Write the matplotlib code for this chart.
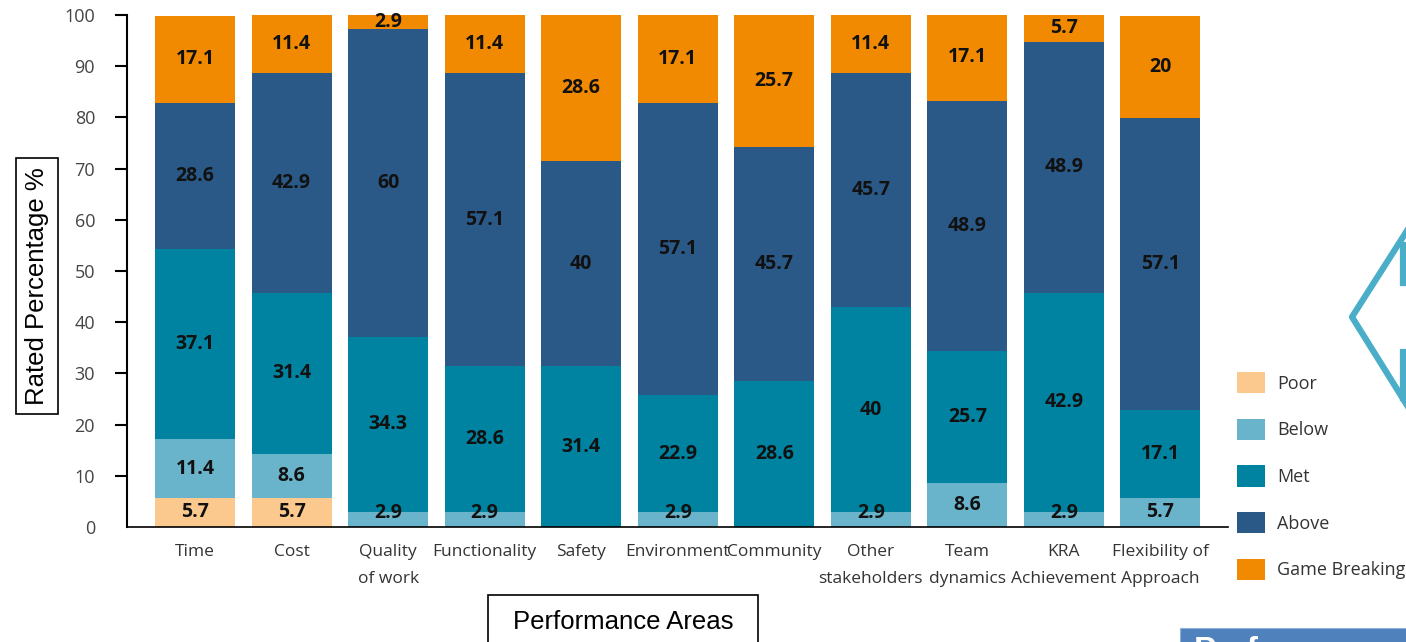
import numpy as np
import matplotlib.pyplot as plt
from matplotlib.patches import Rectangle
from matplotlib.lines import Line2D

# categories and stacked series (percent of raters)
areas = ['Time', 'Cost', 'Quality\nof work', 'Functionality', 'Safety', 'Environment',
         'Community', 'Other\nstakeholders', 'Team\ndynamics', 'KRA\nAchievement',
         'Flexibility of\nApproach']
poor = [5.7, 5.7, 0, 0, 0, 0, 0, 0, 0, 0, 0]
below = [11.4, 8.6, 2.9, 2.9, 0, 2.9, 0, 2.9, 8.6, 2.9, 5.7]
met = [37.1, 31.4, 34.3, 28.6, 31.4, 22.9, 28.6, 40, 25.7, 42.9, 17.1]
above = [28.6, 42.9, 60, 57.1, 40, 57.1, 45.7, 45.7, 48.9, 48.9, 57.1]
game_breaking = [17.1, 11.4, 2.9, 11.4, 28.6, 17.1, 25.7, 11.4, 17.1, 5.7, 20]

series_names = ['Poor', 'Below', 'Met', 'Above', 'Game Breaking']
colors = ['#FBC98E', '#6AB4CB', '#0083A0', '#2A5987', '#F18A00']

W, H = 1406, 642


def fx(px):
    return px / W


def fy(py):
    return 1 - py / H


fig = plt.figure(figsize=(W / 100, H / 100), dpi=100)
ax = fig.add_axes([fx(127), fy(527), fx(1228) - fx(127), fy(15) - fy(527)])

x = np.arange(len(areas))
bottom = np.zeros(len(areas))
for name, vals, c in zip(series_names, [poor, below, met, above, game_breaking], colors):
    vals = np.array(vals, dtype=float)
    ax.bar(x, vals, 0.83, bottom=bottom, color=c, label=name, zorder=2)
    for xi, b, v in zip(x, bottom, vals):
        if v > 0:
            yc = min(max(b + v / 2, 2.8), 98.6)
            ax.text(xi, yc, f'{v:g}', ha='center', va='center', fontsize=14,
                    fontweight='bold', color='#111111', family='Open Sans')
    bottom += vals

ax.set_ylim(0, 100)
ax.set_xlim(-0.705, 10.70)
ax.set_yticks(range(0, 101, 10))
ax.set_xticks(x)
ax.set_xticklabels(areas, fontsize=12.5, color='#333333', family='Open Sans', linespacing=1.95)
for lab in ax.get_yticklabels():
    lab.set_family('Open Sans')
ax.tick_params(axis='y', labelsize=13, labelcolor='#444444', length=9, width=1.5, pad=14)
ax.tick_params(axis='x', length=0, pad=12)
ax.yaxis.get_major_ticks()[0].tick1line.set_visible(False)
for s in ['top', 'right']:
    ax.spines[s].set_visible(False)
ax.spines['left'].set_linewidth(1.5)
ax.spines['bottom'].set_linewidth(1.2)

fig.legend(loc='center left', bbox_to_anchor=(fx(1221), fy(476)), frameon=False,
           prop={'family': 'Open Sans', 'size': 13}, handlelength=1.55, handleheight=1.45,
           labelspacing=1.4, handletextpad=0.65, labelcolor='#333333')

# boxed axis titles
fig.text(fx(37), fy(286), 'Rated Percentage %', rotation=90, ha='center', va='center',
         fontsize=18.5, family='Liberation Sans',
         bbox=dict(boxstyle='square,pad=0.35', fc='white', ec='black', lw=1.2))
fig.patches.append(Rectangle((fx(488), fy(660)), fx(758) - fx(488), fy(595) - fy(660),
                             transform=fig.transFigure, fc='white', ec='black', lw=1.2))
fig.text(fx(623), fy(622), 'Performance Areas', ha='center', va='center',
         fontsize=18.5, family='Liberation Sans')

# decoration on the right edge
arrow_c = '#4BAEC8'
fig.lines.append(Line2D([fx(1410), fx(1352), fx(1410)], [fy(226), fy(317), fy(410)],
                        transform=fig.transFigure, color=arrow_c, lw=4.5))
fig.lines.append(Line2D([fx(1403), fx(1403)], [fy(245), fy(283)],
                        transform=fig.transFigure, color=arrow_c, lw=4.5))
fig.lines.append(Line2D([fx(1403), fx(1403)], [fy(352), fy(398)],
                        transform=fig.transFigure, color=arrow_c, lw=4.5))
fig.patches.append(Rectangle((fx(1180), fy(650)), fx(1410) - fx(1180), fy(628) - fy(650),
                             transform=fig.transFigure, fc='#4F81BD', ec='#8FB0D8', lw=0.8))
fig.text(fx(1194), fy(636), 'Performance', ha='left', va='top', fontsize=24,
         fontweight='bold', color='white', family='Liberation Sans')

fig.savefig('out.png', dpi=100)
